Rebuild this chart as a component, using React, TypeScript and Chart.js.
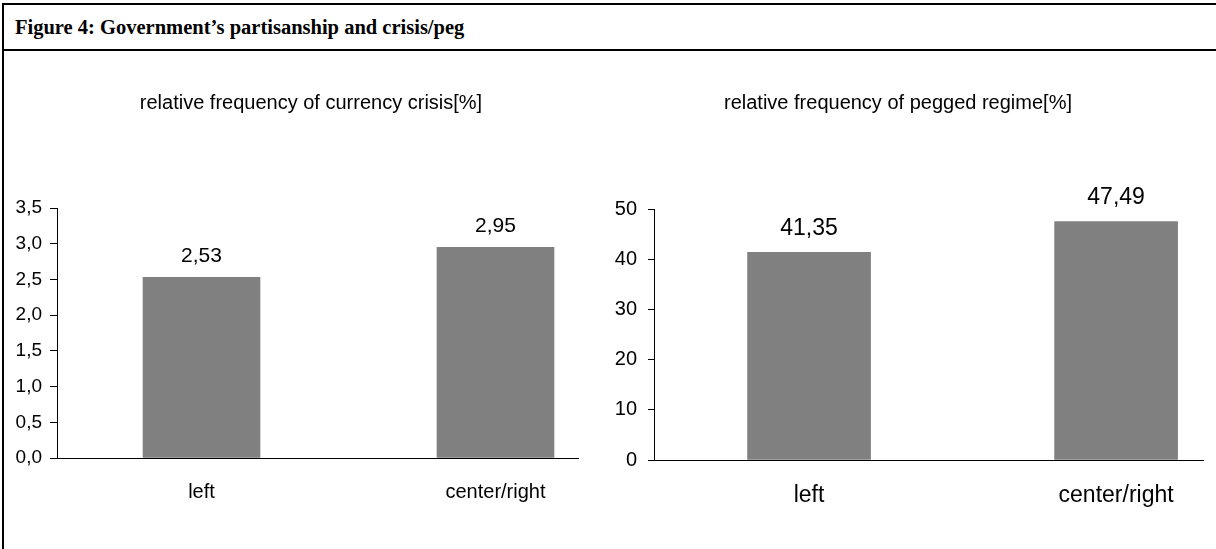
import React, { useEffect, useRef } from "react";
import { Chart, registerables } from "chart.js";

Chart.register(...registerables);

const figureTitle = "Figure 4: Government’s partisanship and crisis/peg";
const categories = ["left", "center/right"];
const crisisValues = [2.53, 2.95];
const pegValues = [41.35, 47.49];
const crisisTicks = [0, 0.5, 1, 1.5, 2, 2.5, 3, 3.5];
const pegTicks = [0, 10, 20, 30, 40, 50];
const crisisTitle = "relative frequency of currency crisis[%]";
const pegTitle = "relative frequency of pegged regime[%]";

const SANS = '"Liberation Sans", Arial, sans-serif';

const fmt = (v: number, d: number) => v.toFixed(d).replace(".", ",");

const valueLabels = {
  id: "valueLabels",
  afterDatasetsDraw(chart: any, _args: any, opts: any) {
    const { ctx } = chart;
    const meta = chart.getDatasetMeta(0);
    const data = chart.data.datasets[0].data;
    ctx.save();
    ctx.font = `${opts.size}px ${SANS}`;
    ctx.fillStyle = "#000";
    ctx.textAlign = "center";
    ctx.textBaseline = "middle";
    meta.data.forEach((bar: any, i: number) => {
      ctx.fillText(fmt(data[i].y, opts.decimals), bar.x, bar.y - opts.offset);
    });
    ctx.restore();
  },
};

const panelTitle = {
  id: "panelTitle",
  afterDraw(chart: any, _args: any, opts: any) {
    const { ctx } = chart;
    ctx.save();
    ctx.font = `${opts.size}px ${SANS}`;
    ctx.fillStyle = "#000";
    ctx.textAlign = "center";
    ctx.textBaseline = "middle";
    ctx.fillText(opts.text, opts.x, opts.y);
    ctx.restore();
  },
};

type Cfg = {
  values: number[];
  ticks: number[];
  title: string;
  yMax: number;
  yDecimals: number;
  xMin: number;
  xMax: number;
  barThickness: number;
  yWidth: number;
  xHeight: number;
  padRight: number;
  padTop: number;
  tickLen: number;
  tickPad: number;
  tickSize: number;
  catSize: number;
  catPad: number;
  labelSize: number;
  labelOffset: number;
  titleSize: number;
  titleX: number;
  titleY: number;
};

function makeConfig(c: Cfg): any {
  return {
    type: "bar",
    data: {
      datasets: [
        {
          data: c.values.map((y, i) => ({ x: i, y })),
          backgroundColor: "#808080",
          borderWidth: 0,
          barThickness: c.barThickness,
        },
      ],
    },
    options: {
      animation: false,
      responsive: false,
      devicePixelRatio: 1,
      layout: { padding: { left: 0, right: c.padRight, top: c.padTop, bottom: 0 } },
      plugins: {
        legend: { display: false },
        tooltip: { enabled: false },
        title: { display: false },
        panelTitle: { text: c.title, size: c.titleSize, x: c.titleX, y: c.titleY },
        valueLabels: { size: c.labelSize, offset: c.labelOffset, decimals: 2 },
      },
      scales: {
        x: {
          type: "linear",
          offset: false,
          min: c.xMin,
          max: c.xMax,
          afterBuildTicks: (s: any) => {
            s.ticks = categories.map((_, i) => ({ value: i }));
          },
          afterFit: (s: any) => {
            s.height = c.xHeight;
          },
          grid: { display: false, drawTicks: false, offset: false },
          border: { display: true, color: "#000", width: 1 },
          ticks: {
            callback: (v: number) => categories[v] ?? "",
            color: "#000",
            font: { family: SANS, size: c.catSize },
            padding: c.catPad,
            maxRotation: 0,
            autoSkip: false,
          },
        },
        y: {
          min: 0,
          max: c.yMax,
          afterBuildTicks: (s: any) => {
            s.ticks = c.ticks.map((v) => ({ value: v }));
          },
          afterFit: (s: any) => {
            s.width = c.yWidth;
          },
          grid: {
            drawOnChartArea: false,
            drawTicks: true,
            tickLength: c.tickLen,
            color: "#000",
          },
          border: { display: true, color: "#000", width: 1 },
          ticks: {
            callback: (v: number) => fmt(v, c.yDecimals),
            color: "#000",
            font: { family: SANS, size: c.tickSize },
            padding: c.tickPad,
          },
        },
      },
    },
    plugins: [valueLabels, panelTitle],
  };
}

function BarPanel({ cfg, left, width, top, height }: { cfg: Cfg; left: number; width: number; top: number; height: number }) {
  const ref = useRef<HTMLCanvasElement | null>(null);
  useEffect(() => {
    if (!ref.current) return;
    const chart = new Chart(ref.current, makeConfig(cfg));
    return () => chart.destroy();
  }, []);
  return (
    <canvas
      ref={ref}
      width={width}
      height={height}
      style={{ position: "absolute", left, top, width, height }}
    />
  );
}

const leftCfg: Cfg = {
  values: crisisValues,
  ticks: crisisTicks,
  title: crisisTitle,
  yMax: 3.5,
  yDecimals: 1,
  xMin: -0.4915,
  xMax: 1.2806,
  barThickness: 117,
  yWidth: 57,
  xHeight: 91,
  padRight: 22,
  padTop: 156,
  tickLen: 7,
  tickPad: 8,
  tickSize: 19,
  catSize: 20,
  catPad: 22,
  labelSize: 21,
  labelOffset: 21,
  titleSize: 20,
  titleX: 311,
  titleY: 51,
};

const rightCfg: Cfg = {
  values: pegValues,
  ticks: pegTicks,
  title: pegTitle,
  yMax: 50,
  yDecimals: 0,
  xMin: -0.505,
  xMax: 1.283,
  barThickness: 123,
  yWidth: 54,
  xHeight: 89,
  padRight: 13,
  padTop: 157,
  tickLen: 6,
  tickPad: 11,
  tickSize: 20,
  catSize: 23,
  catPad: 22,
  labelSize: 23,
  labelOffset: 24,
  titleSize: 20,
  titleX: 298,
  titleY: 51,
};

export default function App() {
  return (
    <div
      style={{
        position: "absolute",
        left: 0,
        top: 0,
        width: 1216,
        height: 549,
        overflow: "hidden",
        background: "#fff",
      }}
    >
      <div
        style={{
          position: "absolute",
          left: 2,
          top: 3,
          width: 1300,
          height: 600,
          borderLeft: "2px solid #000",
          borderTop: "2px solid #000",
        }}
      />
      <div
        style={{
          position: "absolute",
          left: 2,
          top: 49,
          width: 1300,
          height: 0,
          borderTop: "2px solid #000",
        }}
      />
      <div
        style={{
          position: "absolute",
          left: 15,
          top: 13,
          fontFamily: '"Liberation Serif", "Times New Roman", serif',
          fontWeight: "bold",
          fontSize: 20.5,
          lineHeight: "28px",
          whiteSpace: "nowrap",
          color: "#000",
        }}
      >
        {figureTitle}
      </div>
      <BarPanel cfg={leftCfg} left={0} width={600} top={52} height={497} />
      <BarPanel cfg={rightCfg} left={600} width={616} top={52} height={497} />
    </div>
  );
}
